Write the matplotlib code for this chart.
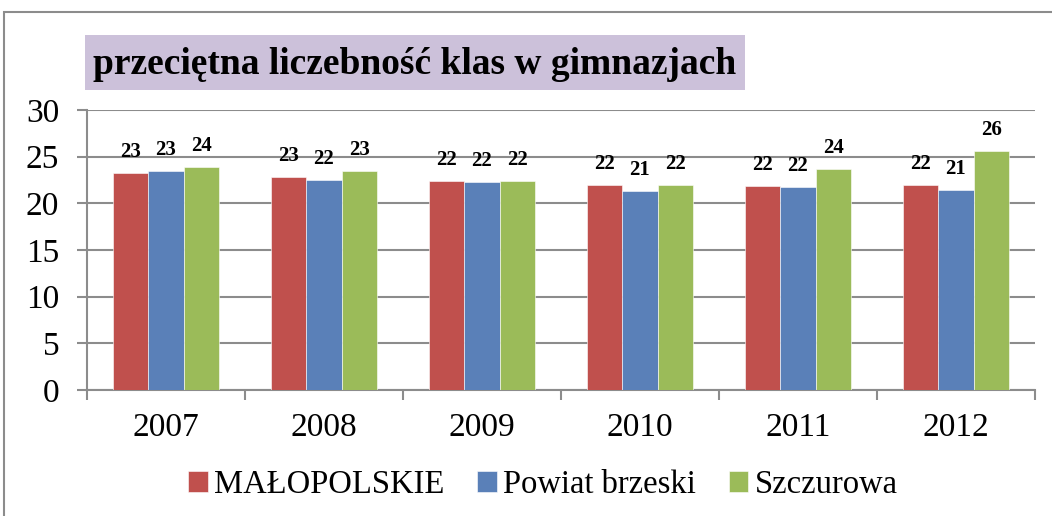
import numpy as np
import matplotlib
matplotlib.use("Agg")
import matplotlib.pyplot as plt
from matplotlib.patches import Rectangle

# ─── Dati ─────────────────────────────────────────────────────────────────────
anni = ["2007", "2008", "2009", "2010", "2011", "2012"]
malopolskie = [23.25, 22.8, 22.4, 21.95, 21.85, 21.95]
powiat_brzeski = [23.45, 22.45, 22.3, 21.35, 21.8, 21.45]
szczurowa = [23.9, 23.45, 22.4, 22.0, 23.7, 25.6]
serie = ["MAŁOPOLSKIE", "Powiat brzeski", "Szczurowa"]
colori = ["#C0504D", "#5A80B8", "#9BBB59"]
titolo = "przeciętna liczebność klas w gimnazjach"

plt.rcParams["font.family"] = ["Liberation Serif", "DejaVu Serif"]

fig = plt.figure(figsize=(10.52, 5.16), dpi=100)
ax = fig.add_axes([87 / 1052, 1 - 390 / 516, (1035 - 87) / 1052, 280 / 516])

x = np.arange(len(anni))
w = 0.225
for i, (vals, nome, col) in enumerate(zip([malopolskie, powiat_brzeski, szczurowa], serie, colori)):
    bars = ax.bar(x + (i - 1) * w, vals, w, color=col, label=nome, zorder=3,
                  edgecolor="white", linewidth=0.4)
    for b, v in zip(bars, vals):
        ax.annotate(f"{v:.0f}", (b.get_x() + b.get_width() / 2, v),
                    xytext=(0, 11.5), textcoords="offset points",
                    ha="center", va="baseline", fontsize=15, fontweight="bold")

ax.set_ylim(0, 30)
ax.set_xlim(-0.5, len(anni) - 0.5)
ax.set_yticks(range(0, 31, 5))
ax.yaxis.grid(True, color="#8c8c8c", linewidth=1.5, zorder=0)
ax.set_xticks(x)
ax.set_xticklabels(anni)
ax.set_xticks(np.arange(-0.5, len(anni)), minor=True)
ax.tick_params(axis="x", which="major", length=0, pad=16, labelsize=24)
ax.tick_params(axis="x", which="minor", length=7, width=1.5, color="#8c8c8c")
ax.tick_params(axis="y", length=7, width=1.5, color="#8c8c8c", pad=13, labelsize=24)
for s in ["top", "right"]:
    ax.spines[s].set_visible(False)
for s in ["left", "bottom"]:
    ax.spines[s].set_color("#8c8c8c")
    ax.spines[s].set_linewidth(1.5)

# titolo con sfondo lilla
fig.patches.append(Rectangle((85 / 1052, 1 - 90 / 516), 660 / 1052, 55 / 516,
                             transform=fig.transFigure, facecolor="#CCC1DA",
                             edgecolor="none"))
fig.text(415 / 1052, 1 - 64 / 516, titolo, ha="center", va="center",
         fontsize=27, fontweight="bold")

# cornice esterna
fig.patches.append(Rectangle((4 / 1052, -0.1), 1.2, 1 - 12 / 516 + 0.1,
                             transform=fig.transFigure, fill=False,
                             edgecolor="#8c8c8c", linewidth=1.5))

fig.legend(loc="center", bbox_to_anchor=(543 / 1052, 1 - 485 / 516), ncol=3,
           frameon=False, fontsize=23.5, handlelength=0.6, handleheight=0.6,
           handletextpad=0.2, columnspacing=1.0)

fig.savefig("out.png", dpi=100)
